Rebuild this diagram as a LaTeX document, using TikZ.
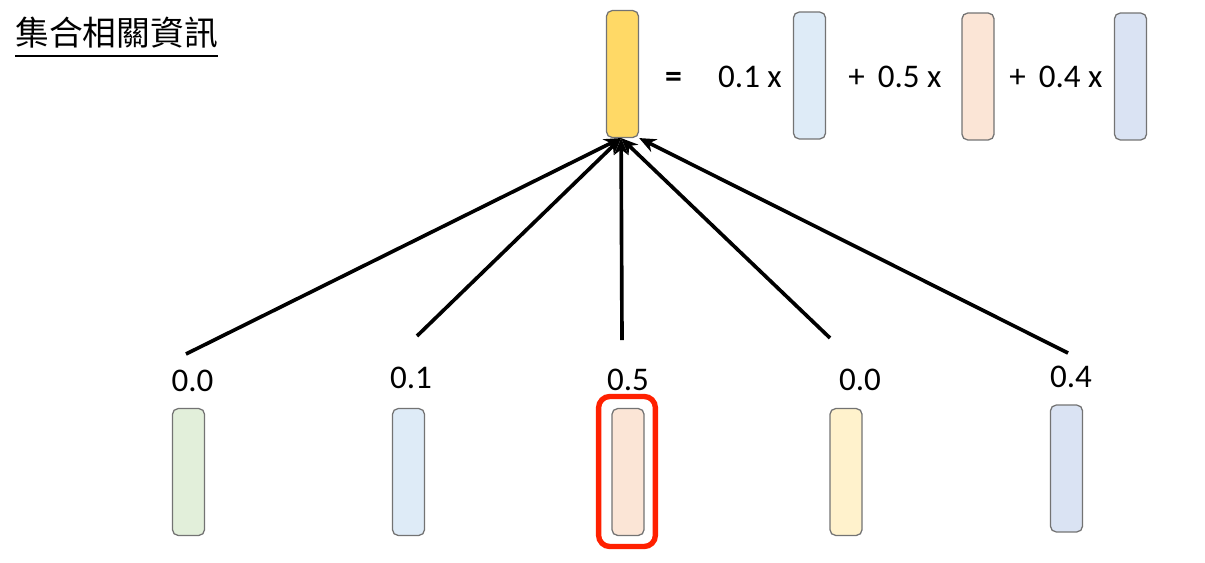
\documentclass[tikz,border=0pt]{standalone}
\usepackage{fontspec}
\setmainfont{Carlito}
\newfontfamily\cjk{Noto Sans CJK TC}
\usetikzlibrary{arrows.meta}
\definecolor{gold}{HTML}{FFD966}
\definecolor{skyblue}{HTML}{DEEBF7}
\definecolor{peach}{HTML}{FBE5D6}
\definecolor{steelblue}{HTML}{DAE3F3}
\definecolor{sage}{HTML}{E2EFDA}
\definecolor{cream}{HTML}{FFF2CC}
\definecolor{markred}{HTML}{FF2000}
\begin{document}
\begin{tikzpicture}[x=0.025cm, y=-0.025cm,
    vec/.style={draw=black!55, line width=0.9pt, rounded corners=4pt,
      minimum width=0.8cm, minimum height=3.17cm, inner sep=0pt},
    num/.style={font=\fontsize{23.5}{28}\selectfont, inner sep=0pt, anchor=base},
    pointer/.style={line width=2.6pt, -{Stealth[length=12pt,width=10pt]}}]
        \useasboundingbox (0,0) rectangle (1205,562);
        % Title
        \node[anchor=base west, inner sep=0pt, font=\cjk\fontsize{24}{28}\selectfont] (title) at (15,45) {集合相關資訊};
        \draw[line width=1.3pt] ([yshift=-7.8pt]title.base west) -- ([yshift=-7.8pt]title.base east);
        % Weighted sum at the top
        \node[vec, fill=gold] (agg) at (622.5,74) {};
        \node[num, font=\bfseries\fontsize{24}{28}\selectfont] (eq) at (673.5,87) {=};
        \node[num] (w1) at (750,87) {0.1 x};
        \node[vec, fill=skyblue] (v1) at (809.5,75.5) {};
        \node[num] (w2) at (895,87) {+\, 0.5 x};
        \node[vec, fill=peach] (v2) at (978,76.5) {};
        \node[num] (w3) at (1056,87) {+\, 0.4 x};
        \node[vec, fill=steelblue] (v3) at (1130.5,76.5) {};
        % Vectors at the bottom
        \node[vec, fill=sage] (b1) at (188.5,472) {};
        \node[vec, fill=skyblue] (b2) at (408.5,472) {};
        \node[vec, fill=peach] (b3) at (628,472) {};
        \node[vec, fill=cream] (b4) at (846,472) {};
        \node[vec, fill=steelblue] (b5) at (1066.5,468.5) {};
        \node[draw=markred, line width=3.8pt, rounded corners=8pt, minimum width=1.42cm,
          minimum height=3.75cm] (mark) at (627,471.5) {};
        % Weights
        \node[num] (a1) at (192.5,391) {0.0};
        \node[num] (a2) at (411,388) {0.1};
        \node[num] (a3) at (628,390) {0.5};
        \node[num] (a4) at (860,390) {0.0};
        \node[num] (a5) at (1071,387) {0.4};
        % Arrows
        \coordinate (s1) at (186,354);
        \coordinate (s2) at (417,336);
        \coordinate (s3) at (622,340);
        \coordinate (s4) at (830,338);
        \coordinate (s5) at (1068,353);
        \draw[pointer] (s1) -- ([xshift=-1pt]agg.south);
        \draw[pointer] (s2) -- ([xshift=-1pt]agg.south);
        \draw[pointer] (s3) -- ([xshift=-1pt]agg.south);
        \draw[pointer] (s4) -- ([xshift=-1pt]agg.south);
        \draw[pointer] (s5) -- (agg.south east);
    \end{tikzpicture}
\end{document}
